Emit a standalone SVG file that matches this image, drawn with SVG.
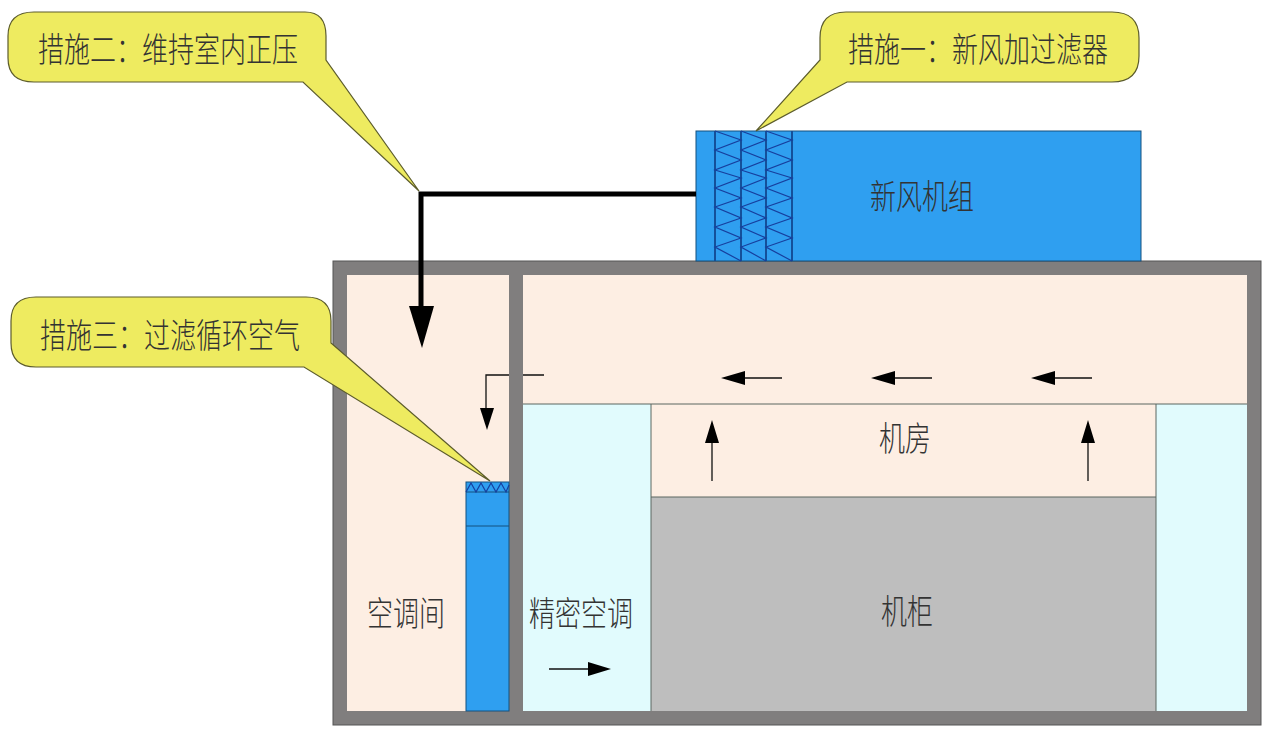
<svg xmlns="http://www.w3.org/2000/svg" width="1268" height="731" viewBox="0 0 1268 731">
<style>
.t{font-family:"Noto Sans CJK SC","Liberation Sans",sans-serif;font-weight:300;fill:#333;font-size:26px;text-anchor:middle}
.call{fill:#eeeb60;stroke:#5c5c2c;stroke-width:1.2}
.ln{stroke:#111;stroke-width:1.3;fill:none}
.zig{fill:none;stroke:#173f9e;stroke-width:1.2}
.bar{stroke:#14509a;stroke-width:2;fill:none}
</style>
<rect width="1268" height="731" fill="#fff"/>
<g id="room">
<rect x="333" y="261" width="928" height="464" fill="#807e7e" stroke="#555" stroke-width="1"/>
<rect x="347" y="275" width="162" height="436" fill="#fdeee3"/>
<rect x="523" y="275" width="724" height="129" fill="#fdeee3"/>
<rect x="651" y="404" width="505" height="93" fill="#fdeee3"/>
</g>
<g id="ac-left"><rect x="523" y="404" width="128" height="307" fill="#e1fbfd"/></g>
<g id="ac-right"><rect x="1156" y="404" width="91" height="307" fill="#e1fbfd"/></g>
<g id="cabinet"><rect x="651" y="497" width="505" height="214" fill="#bebebe"/></g>
<path d="M523 404H1247M651 404V711M1156 404V711M651 497H1156" fill="none" stroke="#5a6660" stroke-width="1"/>
<g id="fresh-air-unit">
<rect x="696" y="131" width="445" height="130" fill="#2f9ff0" stroke="#14507f" stroke-width="1"/>
<path class="bar" d="M715 131V261M741 131V261M766 131V261M792 131V261"/>
<path class="zig" d="M715 131L741 140L715 150L741 160L715 170L741 178L715 188L741 198L715 207L741 218L715 227L741 238L715 247L741 261"/>
<path class="zig" d="M741 131L766 140L741 150L766 160L741 170L766 178L741 188L766 198L741 207L766 218L741 227L766 238L741 247L766 261"/>
<path class="zig" d="M766 131L792 140L766 150L792 160L766 170L792 178L766 188L792 198L766 207L792 218L766 227L792 238L766 247L792 261"/>
</g>
<g id="inner-filter">
<rect x="466" y="482" width="43" height="229" fill="#2f9ff0" stroke="#14507f" stroke-width="1"/>
<path d="M466 492H509M466 526H509" stroke="#14507f" stroke-width="1" fill="none"/>
<path class="zig" d="M466 492L471 483L476 492L481 483L486 492L491 483L496 492L501 483L506 492L509 485"/>
</g>
<g id="connectors">
<path d="M696 194H421V310" fill="none" stroke="#000" stroke-width="5"/>
<path d="M409 306H434L422 348Z" fill="#000"/>
<path class="ln" d="M509 375H486V410M523 375H544"/>
<path d="M480 408H494L487 430Z" fill="#000"/>
<path class="ln" d="M782 378H745M932 378H895M1092 378H1055"/>
<path d="M721 378L745 371V385Z M871 378L895 371V385Z M1031 378L1055 371V385Z" fill="#000"/>
<path class="ln" d="M712 481V440M1088 481V440"/>
<path d="M712 420L719 443H705Z M1088 420L1095 443H1081Z" fill="#000"/>
<path class="ln" d="M549 669H590"/>
<path d="M611 669L588 662V676Z" fill="#000"/>
</g>
<g id="callout-2">
<path class="call" d="M34 12H305Q326 12 326 36V60L419 191L303 82H34Q8 82 8 58V36Q8 12 34 12Z"/>
<text class="t" transform="translate(168 62) scale(1 1.3)">措施二：维持室内正压</text>
</g>
<g id="callout-1">
<path class="call" d="M846 12H1112Q1139 12 1139 38V56Q1139 82 1112 82H847L756 131L820 60V38Q820 12 846 12Z"/>
<text class="t" transform="translate(978 62) scale(1 1.3)">措施一：新风加过滤器</text>
</g>
<g id="callout-3">
<path class="call" d="M36 297H306Q331 297 331 321V343L490 481L304 367H36Q11 367 11 343V321Q11 297 36 297Z"/>
<text class="t" transform="translate(170 348) scale(1 1.3)">措施三：过滤循环空气</text>
</g>
<g id="labels">
<text class="t" transform="translate(922 209) scale(1 1.3)">新风机组</text>
<text class="t" transform="translate(905 451) scale(1 1.3)">机房</text>
<text class="t" transform="translate(907 624) scale(1 1.3)">机柜</text>
<text class="t" transform="translate(406 626) scale(1 1.3)">空调间</text>
<text class="t" transform="translate(581 626) scale(1 1.3)">精密空调</text>
</g>
</svg>
